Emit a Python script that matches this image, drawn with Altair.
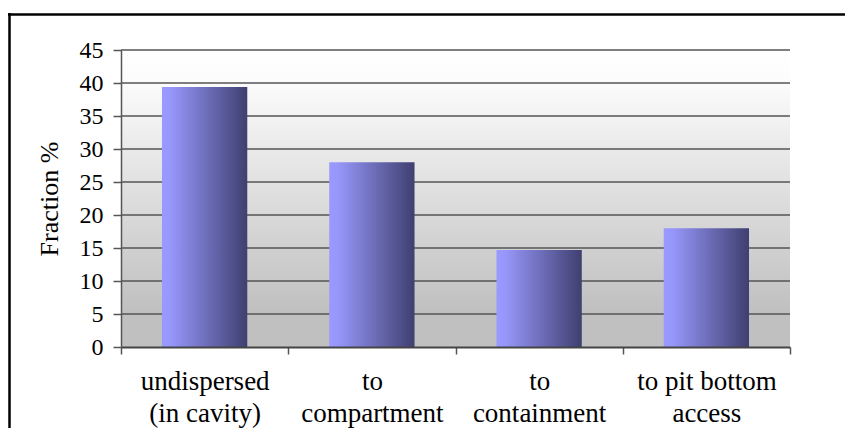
import altair as alt
import pandas as pd

categories = ["undispersed\n(in cavity)", "to\ncompartment", "to\ncontainment", "to pit bottom\naccess"]
values = [39.4, 28.0, 14.7, 18.0]
y_ticks = [0, 5, 10, 15, 20, 25, 30, 35, 40, 45]

df = pd.DataFrame({"cat": categories, "val": values})
grid_df = pd.DataFrame({"v": y_ticks[1:]})

W, H = 669, 297
FONT = "Liberation Serif"

yscale = alt.Scale(domain=[0, 45], nice=False, zero=True)
yaxis = alt.Axis(title="Fraction %", values=y_ticks, grid=False,
                 labelFont=FONT, labelFontSize=24, labelColor="black",
                 labelPadding=10, tickSize=8, tickColor="#555555",
                 tickWidth=1.5, domainColor="#555555", domainWidth=1.5,
                 titleFont=FONT, titleFontSize=26, titleFontWeight="normal",
                 titleColor="black", titlePadding=17, zindex=1)

bg = alt.Chart(alt.Data(values=[{"k": 1}])).mark_rect(
    fill=alt.Gradient(
        gradient="linear", x1=0, x2=0, y1=0, y2=1,
        stops=[alt.GradientStop(offset=0, color="#FFFFFF"),
               alt.GradientStop(offset=0.1, color="#FCFCFC"),
               alt.GradientStop(offset=0.88, color="#C0C0C0"),
               alt.GradientStop(offset=1, color="#C0C0C0")]),
).encode(x=alt.value(0), x2=alt.value(W), y=alt.value(0), y2=alt.value(H))

grid = alt.Chart(grid_df).mark_rule(color="#555555", strokeWidth=1.3).encode(
    y=alt.Y("v:Q", scale=yscale, axis=yaxis),
    x=alt.value(0), x2=alt.value(W),
)

bars = alt.Chart(df).mark_bar(
    width=alt.RelativeBandSize(0.51),
    fill=alt.Gradient(
        gradient="linear", x1=0, x2=1, y1=0, y2=0,
        stops=[alt.GradientStop(offset=0, color="#9999FF"),
               alt.GradientStop(offset=0.1, color="#9797FB"),
               alt.GradientStop(offset=1, color="#3F3F70")]),
).encode(
    x=alt.X("cat:N", sort=categories,
            scale=alt.Scale(paddingInner=0, paddingOuter=0),
            axis=alt.Axis(title=None, labelAngle=0, tickBand="extent",
                          labelExpr="split(datum.label, '\\n')",
                          labelFont=FONT, labelFontSize=27, labelColor="black",
                          labelLineHeight=32, labelPadding=14,
                          tickSize=7, tickColor="#555555", tickWidth=1.5,
                          domainColor="#444444", domainWidth=2,
                          zindex=1)),
    y=alt.Y("val:Q", scale=yscale, axis=yaxis),
)

frame_top = alt.Chart(alt.Data(values=[{"k": 1}])).mark_rule(color="black", strokeWidth=2.5).encode(
    x=alt.value(-113), x2=alt.value(900), y=alt.value(-35.5))
frame_left = alt.Chart(alt.Data(values=[{"k": 1}])).mark_rule(color="black", strokeWidth=2.5).encode(
    x=alt.value(-111.5), y=alt.value(-37), y2=alt.value(600))

chart = alt.layer(bg, grid, bars, frame_top, frame_left).properties(
    width=W, height=H,
    autosize=alt.AutoSizeParams(type="none"),
    padding={"left": 113, "top": 42, "right": 55, "bottom": 81},
    background="white",
).configure_view(stroke=None)

chart.save("out.html", embed_options={"renderer": "svg", "actions": False})
